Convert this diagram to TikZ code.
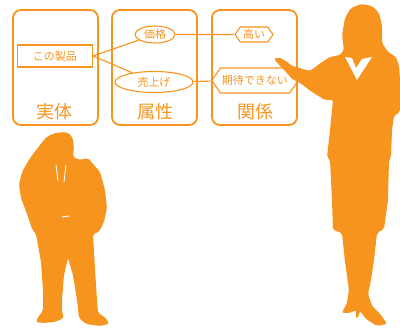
\documentclass[tikz,border=0pt]{standalone}
\usepackage{fontspec}
\setmainfont{Noto Sans CJK JP}
\usepackage{xcolor}
\usepackage{tikz}
\usetikzlibrary{positioning,shapes.geometric,shapes.symbols}

\definecolor{sunset}{HTML}{F7941D}

\begin{document}
\begin{tikzpicture}[x=1pt,y=-1pt,line join=round]
  \tikzstyle{frame}=[draw=sunset,line width=1.8pt,rounded corners=8pt]
  \tikzstyle{thing}=[rectangle,draw=sunset,line width=1.1pt,text=sunset,font=\fontsize{11}{11}\selectfont,minimum width=75pt,minimum height=22pt,inner sep=1pt]
  \tikzstyle{attr}=[ellipse,draw=sunset,line width=1.1pt,text=sunset,font=\fontsize{11}{11}\selectfont,inner sep=0pt]
  \tikzstyle{rel}=[signal,signal to=east and west,signal pointer angle=110,draw=sunset,line width=1.1pt,text=sunset,font=\fontsize{11}{11}\selectfont,inner sep=1.5pt]
  \tikzstyle{head}=[text=sunset,font=\fontsize{18}{18}\selectfont]
  \tikzstyle{link}=[draw=sunset,line width=1.1pt]
  \tikzstyle{figure}=[fill=sunset,rounded corners=2pt]

  \useasboundingbox (0,0) rectangle (400,331);

  % three panels
  \draw[frame] (13,10) rectangle (98,125);
  \draw[frame] (112,10) rectangle (197,125);
  \draw[frame] (212,10) rectangle (297,125);

  \node[head] (entity) at (55,112) {実体};
  \node[head] (property) at (155,112) {属性};
  \node[head] (relation) at (255,112) {関係};

  % entity, attributes, relations
  \node[thing] (product) at (55,56) {この製品};
  \node[attr,minimum width=40pt,minimum height=17pt] (price) at (155,34.5) {価格};
  \node[attr,minimum width=78pt,minimum height=21pt] (sales) at (154,82) {売上げ};
  \node[rel,minimum width=38pt,minimum height=15pt] (high) at (254,34.5) {高い};
  \node[rel,minimum width=82pt,minimum height=25pt] (hopeless) at (255,80.5) {期待できない};

  \draw[link] (product.east) -- (price);
  \draw[link] (product.east) -- (sales);
  \draw[link] (price) -- (high);
  \draw[link] (sales) -- (hopeless);

  % man on the phone
  \fill[figure] (55,133) -- (66,132) -- (72,136) -- (74,146) -- (73,157) -- (80,160)
    -- (88,158) -- (100,172) -- (105,190) -- (107,208) -- (104,222) -- (99,232)
    -- (93,234) -- (95,270) -- (97,300) -- (98,313) -- (106,318) -- (109,324)
    -- (100,326) -- (86,324) -- (79,318) -- (77,300) -- (73,275) -- (68,258)
    -- (64,275) -- (62,300) -- (62,312) -- (64,318) -- (55,322) -- (42,323)
    -- (36,322) -- (38,317) -- (43,311) -- (43,290) -- (41,262) -- (36,234)
    -- (32,229) -- (27,214) -- (21,198) -- (19,185) -- (22,172) -- (30,158)
    -- (37,149) -- (43,141) -- (48,136) -- cycle;
  \draw[white,line width=0.9pt] (56,165) -- (58,181);
  \draw[white,line width=0.9pt] (66,165) -- (64,182);
  \draw[white,line width=1pt] (62,217) -- (69,216);

  % woman pointing at the panels
  \fill[figure] (361,4) -- (372,6) -- (379,13) -- (382,25) -- (382,43) -- (388,52)
    -- (396,57) -- (399,66) -- (400,80) -- (400,112) -- (394,116) -- (392,130)
    -- (391,157) -- (389,160) -- (388,200) -- (384,229) -- (377,233) -- (374,260)
    -- (371,280) -- (368,294) -- (372,306) -- (381,315) -- (387,324) -- (377,326)
    -- (366,319) -- (360,311) -- (358,318) -- (356,318) -- (356,310) -- (350,313)
    -- (342,313) -- (347,303) -- (349,290) -- (345,262) -- (342,233) -- (333,230)
    -- (332,200) -- (330,160) -- (327,157) -- (330,130) -- (333,100) -- (325,100)
    -- (312,92) -- (300,83) -- (292,79) -- (287,73) -- (280,66) -- (274,59)
    -- (278,57) -- (286,61) -- (292,66) -- (310,71) -- (322,62) -- (330,57)
    -- (340,55) -- (344,50) -- (342,35) -- (345,18) -- (351,8) -- cycle;
  \fill[white] (345,57) -- (352,58) -- (356,68) -- (362,59) -- (372,57) -- (357,80) -- cycle;
\end{tikzpicture}
\end{document}
